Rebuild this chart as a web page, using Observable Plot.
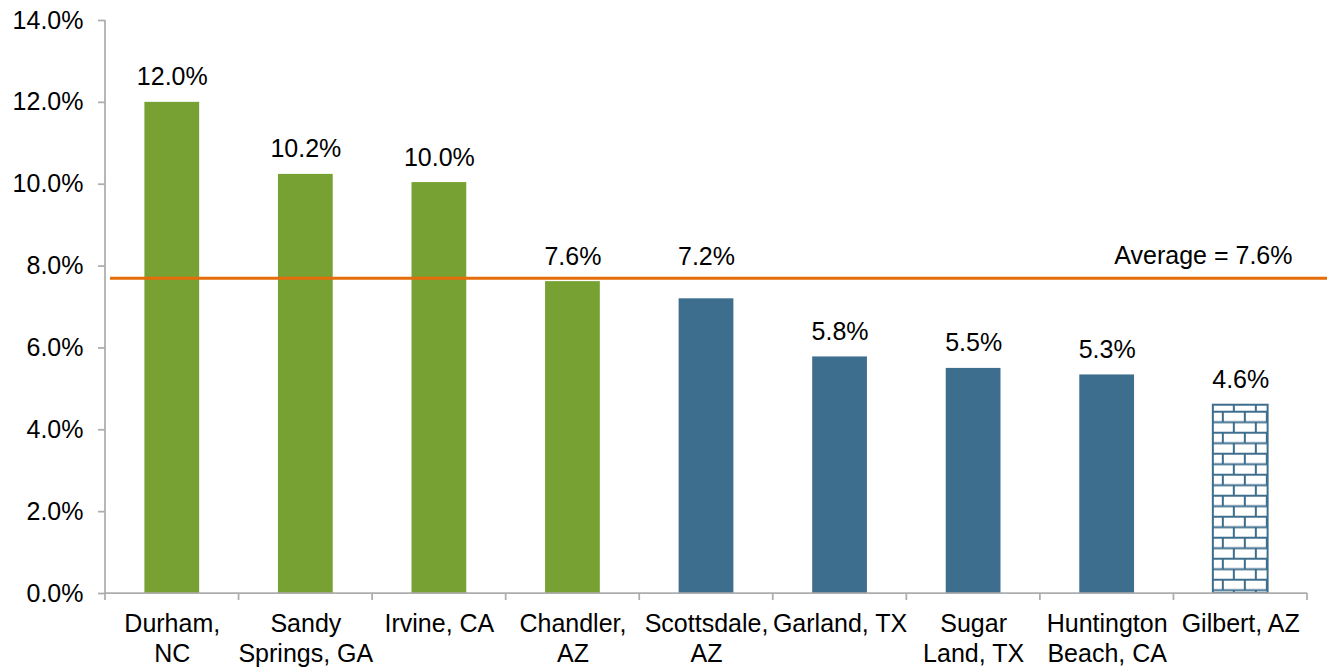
<!DOCTYPE html>
<html><head><meta charset="utf-8">
<script src="https://cdn.jsdelivr.net/npm/d3@7"></script>
<script src="https://cdn.jsdelivr.net/npm/@observablehq/plot@0.6"></script>
<style>body{margin:0;background:#fff}</style>
</head><body><div id="chart"></div>
<script>
const cities = ["Durham,\nNC", "Sandy\nSprings, GA", "Irvine, CA", "Chandler,\nAZ", "Scottsdale,\nAZ", "Garland, TX", "Sugar\nLand, TX", "Huntington\nBeach, CA", "Gilbert, AZ"];
const values = [12.0, 10.24, 10.04, 7.62, 7.2, 5.78, 5.5, 5.34, 4.6];
const groups = ["green", "green", "green", "green", "blue", "blue", "blue", "blue", "brick"];
const yTicks = [0, 2, 4, 6, 8, 10, 12, 14];
const averageLine = 7.7;
const averageLabel = "Average = 7.6%";

const GREEN = "#77A133", BLUE = "#3E6E8E", ORANGE = "#E46C0A", GRAY = "#ADADAD";
const fillOf = {green: GREEN, blue: BLUE};
const data = cities.map((c, i) => ({city: c, value: values[i], group: groups[i]}));
const fmt = v => v.toFixed(1) + "%";
const FONT = "'Liberation Sans', Arial, sans-serif";
// a label whose normal spot would be crossed by the average line is lifted above it
const nearLine = d => averageLine - d.value > 0.25 && averageLine - d.value < 1;

function axisLines(index, scales, vals, dims) {
  const {y} = scales;
  const g = d3.create("svg:g").attr("stroke", GRAY).attr("stroke-width", 1.75).attr("fill", "none");
  const left = dims.marginLeft, right = dims.width - dims.marginRight;
  const y0 = y(0), yTop = y(yTicks[yTicks.length - 1]);
  g.append("line").attr("x1", left).attr("x2", left).attr("y1", yTop).attr("y2", y0);
  g.append("line").attr("x1", left).attr("x2", right).attr("y1", y0).attr("y2", y0);
  const step = (right - left) / cities.length;
  for (let i = 0; i <= cities.length; i++) {
    const bx = left + i * step;
    g.append("line").attr("x1", bx).attr("x2", bx).attr("y1", y0).attr("y2", y0 + 7);
  }
  return g.node();
}

const plot = Plot.plot({
  width: 1327, height: 670,
  marginLeft: 105, marginRight: 20, marginTop: 20, marginBottom: 77,
  style: {fontFamily: FONT, fontSize: "25px", color: "#000", background: "#fff"},
  x: {domain: cities, paddingInner: 0.59, paddingOuter: 0.295, round: false, label: null},
  y: {domain: [0, 14], label: null},
  marks: [
    Plot.axisY({ticks: yTicks, tickFormat: fmt, tickSize: 7, tickPadding: 15, stroke: GRAY, strokeWidth: 1.75, fill: "#000", label: null}),
    Plot.axisX({tickSize: 0, tickPadding: 17, lineHeight: 1.2, fill: "#000", label: null}),
    Plot.barY(data.filter(d => d.group !== "brick"), {x: "city", y: "value", fill: d => fillOf[d.group]}),
    Plot.barY(data.filter(d => d.group === "brick"), {x: "city", y: "value", fill: "url(#brick)", stroke: BLUE, strokeWidth: 2, className: "brickbar"}),
    axisLines,
    Plot.ruleY([averageLine], {stroke: ORANGE, strokeWidth: 3, insetLeft: 5, insetRight: -20}),
    Plot.text([averageLine], {y: d => d, text: () => averageLabel, frameAnchor: "right", textAnchor: "end", dx: -15, lineAnchor: "bottom", dy: -14, fill: "#000"}),
    Plot.text(data.filter(d => !nearLine(d)), {x: "city", y: "value", text: d => fmt(d.value), lineAnchor: "bottom", dy: -17, fill: "#000"}),
    Plot.text(data.filter(nearLine), {x: "city", y: "value", text: d => fmt(d.value), lineAnchor: "bottom", dy: -34, fill: "#000"})
  ],
  color: {type: "identity"}
});

document.getElementById("chart").appendChild(plot);

// brick pattern for the last bar
const svg = d3.select(plot);
const defs = svg.insert("defs", ":first-child");
const pw = 22, ph = 21, rh = ph / 2;
const pat = defs.append("pattern").attr("id", "brick").attr("patternUnits", "userSpaceOnUse")
  .attr("width", pw).attr("height", ph);
pat.append("rect").attr("width", pw).attr("height", ph).attr("fill", "#fff");
const pg = pat.append("g").attr("stroke", BLUE).attr("stroke-width", 2);
pg.append("line").attr("x1", 0).attr("x2", pw).attr("y1", 1).attr("y2", 1);
pg.append("line").attr("x1", 0).attr("x2", pw).attr("y1", 1 + rh).attr("y2", 1 + rh);
pg.append("line").attr("x1", 1).attr("x2", 1).attr("y1", 1).attr("y2", 1 + rh);
pg.append("line").attr("x1", 1 + pw / 2).attr("x2", 1 + pw / 2).attr("y1", 1 + rh).attr("y2", ph + 1);
const br = svg.select(".brickbar rect");
if (!br.empty()) {
  pat.attr("x", +br.attr("x") + 9).attr("y", +br.attr("y") + 6);
}
</script>
</body></html>
